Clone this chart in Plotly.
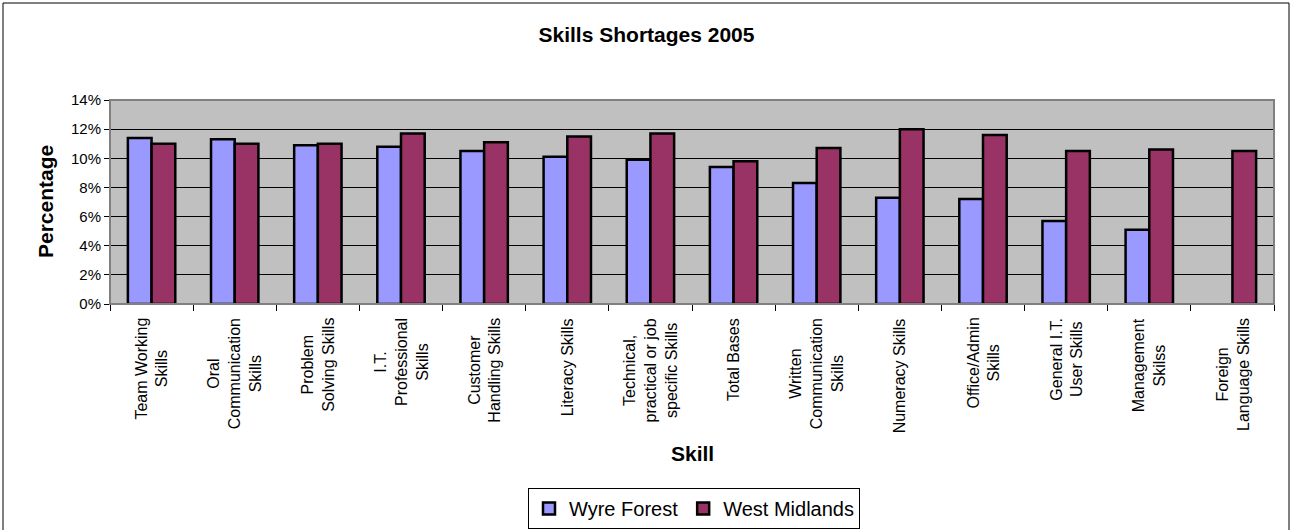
import plotly.graph_objects as go

# Skill categories (line breaks as printed under the axis)
skills = [
    "Team Working<br>Skills",
    "Oral<br>Communication<br>Skills",
    "Problem<br>Solving Skills",
    "I.T.<br>Professional<br>Skills",
    "Customer<br>Handling Skills",
    "Literacy Skills",
    "Technical,<br>practical or job<br>specific Skills",
    "Total Bases",
    "Written<br>Communication<br>Skills",
    "Numeracy Skills",
    "Office/Admin<br>Skills",
    "General I.T.<br>User Skills",
    "Management<br>Skilss",
    "Foreign<br>Language Skills",
]

# Share of employers reporting each shortage
wyre_forest = [0.114, 0.113, 0.109, 0.108, 0.105, 0.101, 0.099,
               0.094, 0.083, 0.073, 0.072, 0.057, 0.051, None]
west_midlands = [0.110, 0.110, 0.110, 0.117, 0.111, 0.115, 0.117,
                 0.098, 0.107, 0.120, 0.116, 0.105, 0.106, 0.105]

y_ticks = [0, 0.02, 0.04, 0.06, 0.08, 0.10, 0.12, 0.14]

FONT = "Liberation Sans, Arial, sans-serif"
W, H = 1293, 530
ML, MR, MT, MB = 110, 19, 100, 226
PW, PH = W - ML - MR, H - MT - MB


def px_x(p):
    return (p - ML) / PW


def px_y(p):
    return (H - MB - p) / PH


fig = go.Figure()
fig.add_trace(go.Bar(
    name="Wyre Forest", x=skills, y=wyre_forest,
    marker=dict(color="#9999FF", line=dict(color="black", width=2.5)),
))
fig.add_trace(go.Bar(
    name="West Midlands", x=skills, y=west_midlands,
    marker=dict(color="#993366", line=dict(color="black", width=2.5)),
))

# Rotated category labels, lines centred within each block
annotations = []
for s in skills:
    annotations.append(dict(
        x=s, xref="x", y=px_y(316), yref="paper",
        text=s, textangle=-90, showarrow=False,
        xanchor="center", yanchor="top", align="center",
        font=dict(family=FONT, size=16, color="black"),
    ))

# Axis titles
annotations.append(dict(
    x=0.5, xref="paper", y=px_y(453), yref="paper",
    text="<b>Skill</b>", showarrow=False,
    xanchor="center", yanchor="middle",
    font=dict(family=FONT, size=21, color="black"),
))
annotations.append(dict(
    x=px_x(45), xref="paper", y=0.5, yref="paper",
    text="<b>Percentage</b>", textangle=-90, showarrow=False,
    xanchor="center", yanchor="middle",
    font=dict(family=FONT, size=21, color="black"),
))

shapes = [
    # plot-area frame
    dict(type="rect", xref="paper", yref="paper", x0=0, x1=1, y0=0, y1=1,
         line=dict(color="#808080", width=2), fillcolor="rgba(0,0,0,0)",
         layer="above"),
    # outer chart border
    dict(type="rect", xref="paper", yref="paper",
         x0=px_x(3), x1=px_x(1289), y0=px_y(540), y1=px_y(3),
         line=dict(color="black", width=1), fillcolor="rgba(0,0,0,0)"),
]

fig.update_layout(
    width=W, height=H,
    margin=dict(l=ML, r=MR, t=MT, b=MB, autoexpand=False),
    paper_bgcolor="white",
    plot_bgcolor="#C0C0C0",
    font=dict(family=FONT, color="black"),
    title=dict(
        text="<b>Skills Shortages 2005</b>",
        x=0.5, xref="container", xanchor="center",
        y=1 - 35 / H, yref="container", yanchor="middle",
        font=dict(family=FONT, size=21, color="black"),
    ),
    barmode="group",
    bargap=0.43,
    bargroupgap=0,
    showlegend=True,
    legend=dict(
        orientation="h",
        x=px_x(694), xanchor="center",
        y=px_y(488), yanchor="top",
        font=dict(family=FONT, size=20, color="black"),
        bordercolor="black", borderwidth=1,
        bgcolor="white",
        itemwidth=30,
        tracegroupgap=0,
        entrywidthmode="pixels",
    ),
    annotations=annotations,
    shapes=shapes,
)

fig.update_xaxes(
    type="category",
    showticklabels=False,
    ticks="outside", ticklen=6, tickcolor="black", tickwidth=1,
    tickson="boundaries",
    showline=True, linecolor="black", linewidth=1,
    showgrid=False,
)
fig.update_yaxes(
    range=[0, 0.14],
    tickvals=y_ticks,
    tickformat=".0%",
    ticks="outside", ticklen=5, tickcolor="black", tickwidth=1,
    tickfont=dict(family=FONT, size=15, color="black"),
    showline=True, linecolor="black", linewidth=1,
    showgrid=True, gridcolor="black", gridwidth=1,
    zeroline=False,
)

fig.write_html("out.html")
